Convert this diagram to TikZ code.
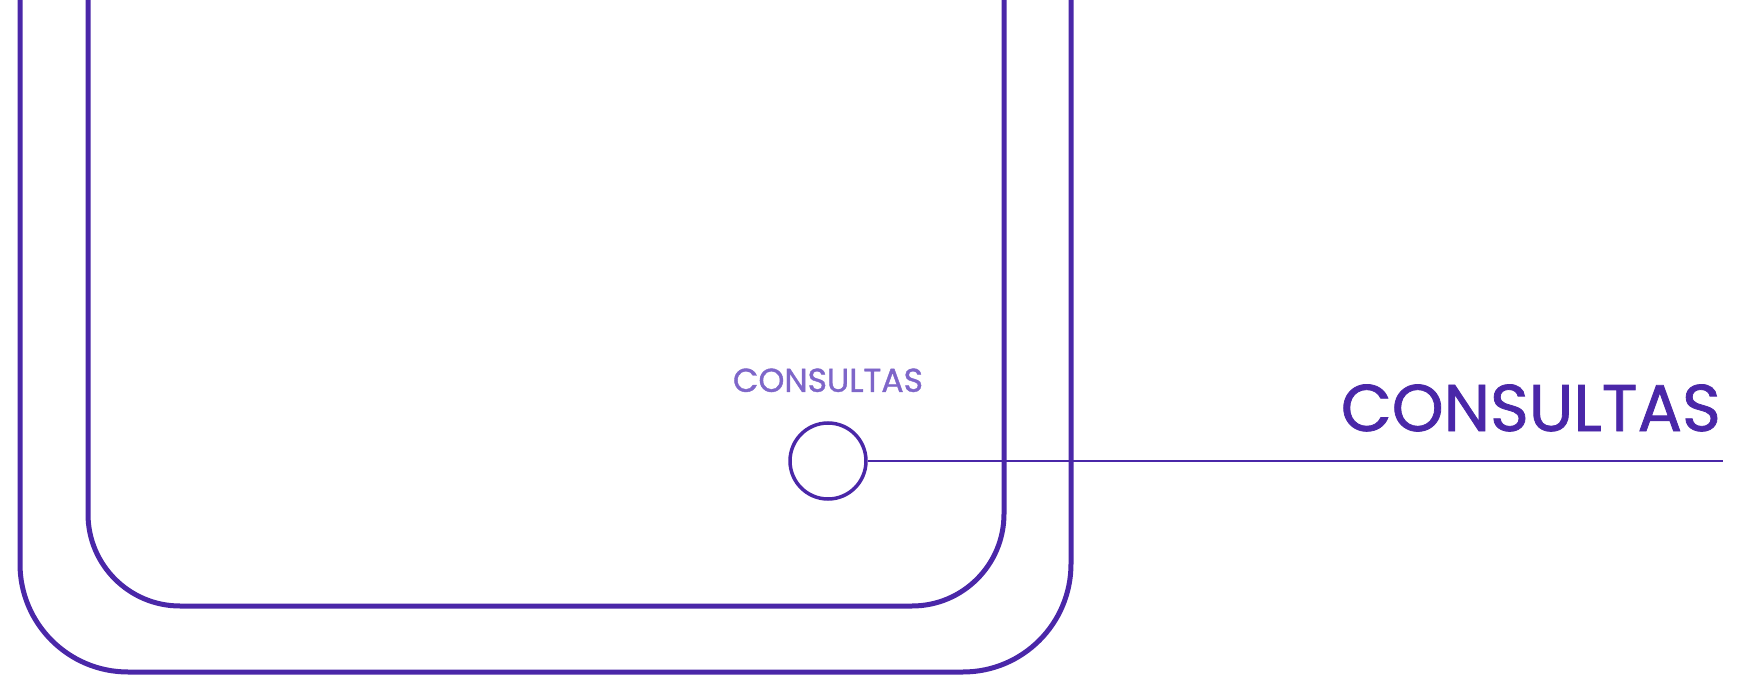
\documentclass[tikz,border=0pt]{standalone}
\usepackage{fontspec}
\setmainfont{Poppins}[FakeBold=1.2]
\usetikzlibrary{positioning}
\definecolor{phonepurple}{HTML}{4A27A8}
\definecolor{tagpurple}{HTML}{7E66C9}

\begin{document}
\begin{tikzpicture}[
  x=1pt, y=-1pt,
  frame/.style={draw=phonepurple, line width=5pt},
  dot/.style={circle, draw=phonepurple, line width=3.5pt, fill=white,
              minimum size=76pt, inner sep=0pt},
  lead/.style={draw=phonepurple, line width=2.5pt},
  tag/.style={font=\fontsize{33}{36}\selectfont, text=tagpurple, inner sep=0pt},
  title/.style={font=\fontsize{66}{70}\selectfont, text=phonepurple, inner sep=0pt}
]
\useasboundingbox (0,0) rectangle (1749,679);

%% phone body and screen
\draw[frame, rounded corners=108pt] (20,-10) -- (20,672) -- (1071,672) -- (1071,-10);
\draw[frame, rounded corners=92pt]  (88,-10) -- (88,606) -- (1004,606) -- (1004,-10);

%% hotspot on the screen
\node[dot] (hotspot) at (828,461) {};
\node[tag, above=29pt of hotspot] (tag) {CONSULTAS};

%% callout
\coordinate (leadend) at (1723,461);
\node[title, anchor=base east] (title) at (1721,431) {CONSULTAS};
\draw[lead] (hotspot.east) -- (leadend);

\end{tikzpicture}
\end{document}
